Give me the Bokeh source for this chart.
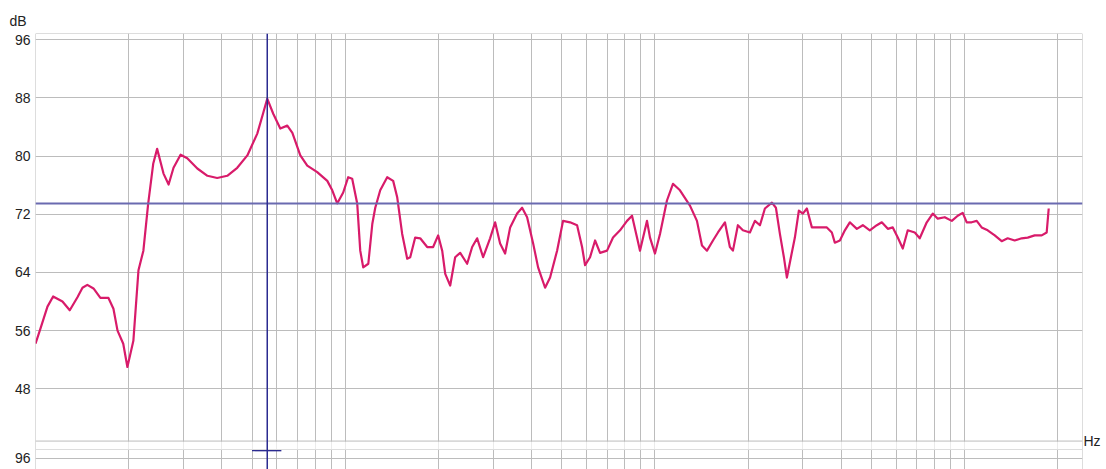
from bokeh.plotting import figure
from bokeh.models import (Range1d, FixedTicker, Grid, Span, LinearAxis, CustomJSTickFormatter)
from bokeh.embed import file_html
from bokeh.resources import INLINE

# ---- data ----
freq_hz = [10.0, 10.38, 10.93, 11.4, 12.22, 12.9, 13.66, 14.18, 14.7, 15.39, 16.2, 17.2, 17.85,
           18.4, 19.2, 19.8, 20.7, 21.5, 22.3, 23.1, 24.0,
           24.7, 25.9, 26.9, 27.9, 29.4, 30.9, 33.3, 35.9, 38.6, 41.6, 44.8, 48.3, 52.0, 54.4,
           56.0, 58.6, 61.7, 65.0, 67.5, 71.6, 75.4, 81.2, 87.5, 90.8, 94.2, 98.5, 102.2, 105.3,
           109.3, 111.8, 114.3, 118.7, 122.3, 125.0, 129.7, 136.6, 142.8, 147.2, 152.7, 158.5,
           162.1, 168.2, 174.6, 183.9, 192.2, 199.5, 205.6, 210.3, 218.2, 226.4, 235.0, 247.5,
           256.9, 266.6, 278.7, 293.5, 304.7, 316.2, 328.2, 340.7, 358.8, 372.4, 386.5, 404.2,
           419.4, 441.8, 458.5, 483.0, 504.9, 531.9, 560.4, 581.6, 594.7, 617.1, 640.6, 664.8,
           700.2, 732.1, 771.2, 812.3, 843.1, 874.9, 894.6, 942.4, 963.6, 1000, 1038, 1093, 1143,
           1204, 1297, 1366, 1418, 1472, 1539, 1597, 1682, 1745, 1785, 1852, 1922, 2025, 2102,
           2182, 2264, 2385, 2457, 2531, 2607, 2666, 2747, 2829, 2914, 3002, 3093, 3210, 3356,
           3588, 3724, 3807, 3953, 4102, 4256, 4484, 4688, 4938, 5202, 5398, 5645, 5858, 6079,
           6310, 6547, 6899, 7157, 7541, 7885, 8183, 8620, 9082, 9493, 9851, 10150, 10530, 10930,
           11340, 11860, 12500, 13160, 13760, 14500, 15270, 15970, 16820, 17720, 18390, 18670]
level_db = [54.2, 56.3, 59.3, 60.7, 60.0, 58.8, 60.6, 61.9, 62.3, 61.8, 60.5, 60.5, 59.0,
            56.0, 54.2, 51.0, 54.6, 64.3, 67.0, 73.4, 79.0,
            81.0, 77.6, 76.1, 78.4, 80.2, 79.7, 78.3, 77.3, 77.0, 77.3, 78.4, 80.1, 83.1, 86.0,
            87.9, 85.8, 83.8, 84.2, 83.2, 80.1, 78.7, 77.8, 76.6, 75.3, 73.5, 75.0, 77.1, 76.9,
            73.5, 67.0, 64.7, 65.2, 70.7, 72.9, 75.3, 77.1, 76.6, 74.3, 69.3, 65.9,
            66.1, 68.8, 68.7, 67.5, 67.5, 69.1, 67.0, 63.8, 62.2, 66.1, 66.7, 65.2,
            67.5, 68.7, 66.1, 68.7, 70.9, 68.0, 66.6, 70.2, 72.1, 72.9, 71.6, 68.0,
            64.7, 61.9, 63.3, 67.0, 71.1, 70.9, 70.5, 67.5, 65.0, 66.1, 68.4, 66.7,
            67.0, 68.8, 69.8, 71.1, 71.8, 68.8, 67.0, 71.1, 68.8, 66.6, 69.3, 73.9, 76.2,
            75.3, 73.2, 71.1, 67.7, 67.0, 68.4, 69.5, 70.9, 67.5, 67.0, 70.5, 69.8, 69.5, 71.1,
            70.5, 72.8, 73.6, 72.9, 69.3, 66.1, 63.3, 66.1, 68.8, 72.5, 72.1, 72.8, 70.2, 70.2,
            70.2, 69.5, 68.1, 68.4, 69.8, 70.9, 70.0, 70.5, 69.8, 70.5, 70.9, 70.0, 70.2, 68.8,
            67.3, 69.8, 69.5, 68.7, 70.9, 72.1, 71.4, 71.6, 71.1, 71.8, 72.2, 70.9, 70.9, 71.1,
            70.2, 69.8, 69.1, 68.3, 68.7, 68.4, 68.7, 68.8, 69.1, 69.1, 69.5, 72.8]

x_grid_hz = [20, 30, 40, 50, 60, 70, 80, 90, 100, 200, 300, 400, 500, 600, 700, 800, 900,
             1000, 2000, 3000, 4000, 5000, 6000, 7000, 8000, 9000, 10000, 20000]
y_ticks_db = [48, 56, 64, 72, 80, 88, 96]
lower_panel_tick = 38.48      # the "96" line of the second (cut-off) panel
cursor_hz = 56.0
cursor_db = 73.5
cross_hz = [50.0, 62.2]
cross_db = 39.5

x_start, x_end = 10, 24000
y_start, y_end = 36.9, 96.87
main_bottom_db = 40.81
lower_top_db = 39.65

GRID = "#bcbcbc"
FONT = "Liberation Sans"
TXT = "#222222"

p = figure(width=1106, height=469, x_axis_type="log", x_axis_location=None,
           x_range=Range1d(x_start, x_end), y_range=Range1d(y_start, y_end),
           output_backend="svg", toolbar_location=None,
           min_border_left=35, min_border_right=24, min_border_top=33, min_border_bottom=0)
p.outline_line_color = None
p.background_fill_color = "white"
p.border_fill_color = "white"

# "dB" unit label above the axis
p.title.text = "dB"
p.title.align = "left"
p.title.offset = -26
p.title.standoff = 10
p.title.text_font = FONT
p.title.text_font_size = "14px"
p.title.text_font_style = "normal"
p.title.text_color = TXT

# y axis
ticks = y_ticks_db + [lower_panel_tick]
p.yaxis.ticker = FixedTicker(ticks=ticks)
p.yaxis.formatter = CustomJSTickFormatter(code="return tick < 40 ? '96' : tick.toFixed(0);")
p.yaxis.axis_line_color = None
p.yaxis.major_tick_line_color = None
p.yaxis.minor_tick_line_color = None
p.yaxis.major_tick_out = 0
p.yaxis.major_tick_in = 0
p.yaxis.major_label_standoff = 5
p.yaxis.major_label_text_font = FONT
p.yaxis.major_label_text_font_size = "14px"
p.yaxis.major_label_text_color = TXT
p.ygrid.ticker = FixedTicker(ticks=ticks)
p.ygrid.grid_line_color = GRID

# "Hz" unit label on the right, at the bottom of the main panel
hz_axis = LinearAxis(ticker=FixedTicker(ticks=[main_bottom_db]),
                     formatter=CustomJSTickFormatter(code="return 'Hz';"),
                     axis_line_color=None, major_tick_line_color=None,
                     minor_tick_line_color=None, major_tick_out=0, major_tick_in=0,
                     major_label_standoff=1, major_label_text_font=FONT,
                     major_label_text_font_size="14px", major_label_text_color=TXT)
p.add_layout(hz_axis, "right")

xgrid = Grid(dimension=0, ticker=FixedTicker(ticks=x_grid_hz), grid_line_color=GRID)
p.add_layout(xgrid)

# gap between panels
p.quad(left=[x_start], right=[x_end], bottom=[lower_top_db], top=[main_bottom_db - 0.05],
       fill_color="white", fill_alpha=0.7, line_color=None)

# frame borders
for loc in (x_start, x_end):
    p.add_layout(Span(location=loc, dimension="height", line_color=GRID, line_width=1))
p.add_layout(Span(location=y_end, dimension="width", line_color=GRID, line_width=1))
p.add_layout(Span(location=main_bottom_db, dimension="width", line_color=GRID, line_width=1))
p.add_layout(Span(location=lower_top_db, dimension="width", line_color="#dddddd", line_width=1))

# response curve
p.line(freq_hz, level_db, line_color="#d81b6a", line_width=2.2, line_join="round")

# cursors
p.add_layout(Span(location=cursor_db, dimension="width", line_color="#6a6ab0", line_width=2))
p.add_layout(Span(location=cursor_hz, dimension="height", line_color="#2b2b90", line_width=1.5))
p.line(cross_hz, [cross_db, cross_db], line_color="#2b2b90", line_width=1.5)

open("out.html", "w").write(file_html(p, INLINE))
